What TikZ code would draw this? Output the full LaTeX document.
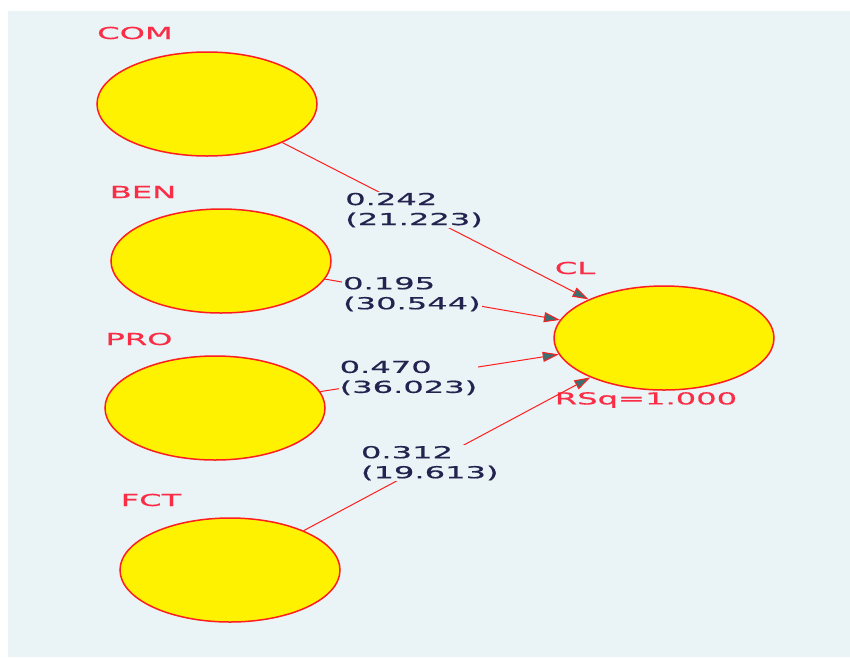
\documentclass[tikz,border=0pt]{standalone}
\usepackage{fontspec}
\newfontfamily\pathfont[FakeStretch=1.95,FakeBold=0.6]{DejaVu Sans}
\usetikzlibrary{shapes}
\usetikzlibrary{arrows.meta}
\usetikzlibrary{positioning}
\definecolor{panel}{RGB}{234,243,245}
\definecolor{lvred}{RGB}{255,30,30}
\definecolor{namered}{RGB}{250,45,70}
\definecolor{coefblue}{RGB}{35,35,80}
\definecolor{tipteal}{RGB}{60,112,112}
\tikzset{
  lv/.style={ellipse,draw=lvred,fill=yellow,line width=1.5pt,minimum width=220pt,minimum height=104pt,inner sep=0pt},
  lvname/.style={text=namered,inner sep=0pt,font=\pathfont\fontsize{16.5}{20}\selectfont},
  coef/.style={fill=panel,text=coefblue,align=left,inner sep=1pt,font=\pathfont\fontsize{16.5}{20}\selectfont},
  pathline/.style={draw=lvred,line width=1pt,-{Triangle[length=16pt,width=10pt,fill=tipteal]}}
}

\begin{document}
\begin{tikzpicture}[x=1pt,y=-1pt]
\useasboundingbox (0,0) rectangle (850,657);
\fill[white] (0,0) rectangle (850,657);
\fill[panel] (8,11) rectangle (850,657);
% latent variables
\node[lv] (COM) at (207,104) {};
\node[lv] (BEN) at (221,261) {};
\node[lv] (PRO) at (215,408) {};
\node[lv] (FCT) at (230,570) {};
\node[lv] (CL) at (664,338) {};
% names
\node[lvname] (COMname) at (135,33) {COM};
\node[lvname] (BENname) at (143,192) {BEN};
\node[lvname] (PROname) at (139,339) {PRO};
\node[lvname] (FCTname) at (151,500) {FCT};
\node[lvname] (CLname) at (575,268) {CL};
\node[lvname] (CLrsq) at (646,400) {RSq=1.000};
% paths
\draw[pathline] (COM) -- node[coef,pos=0.43] {0.242\\(21.223)} (CL);
\draw[pathline] (BEN) -- node[coef,pos=0.37] {0.195\\(30.544)} (CL);
\draw[pathline] (PRO) -- node[coef,pos=0.37] {0.470\\(36.023)} (CL);
\draw[pathline] (FCT) -- node[coef,pos=0.44] {0.312\\(19.613)} (CL);
\end{tikzpicture}
\end{document}
